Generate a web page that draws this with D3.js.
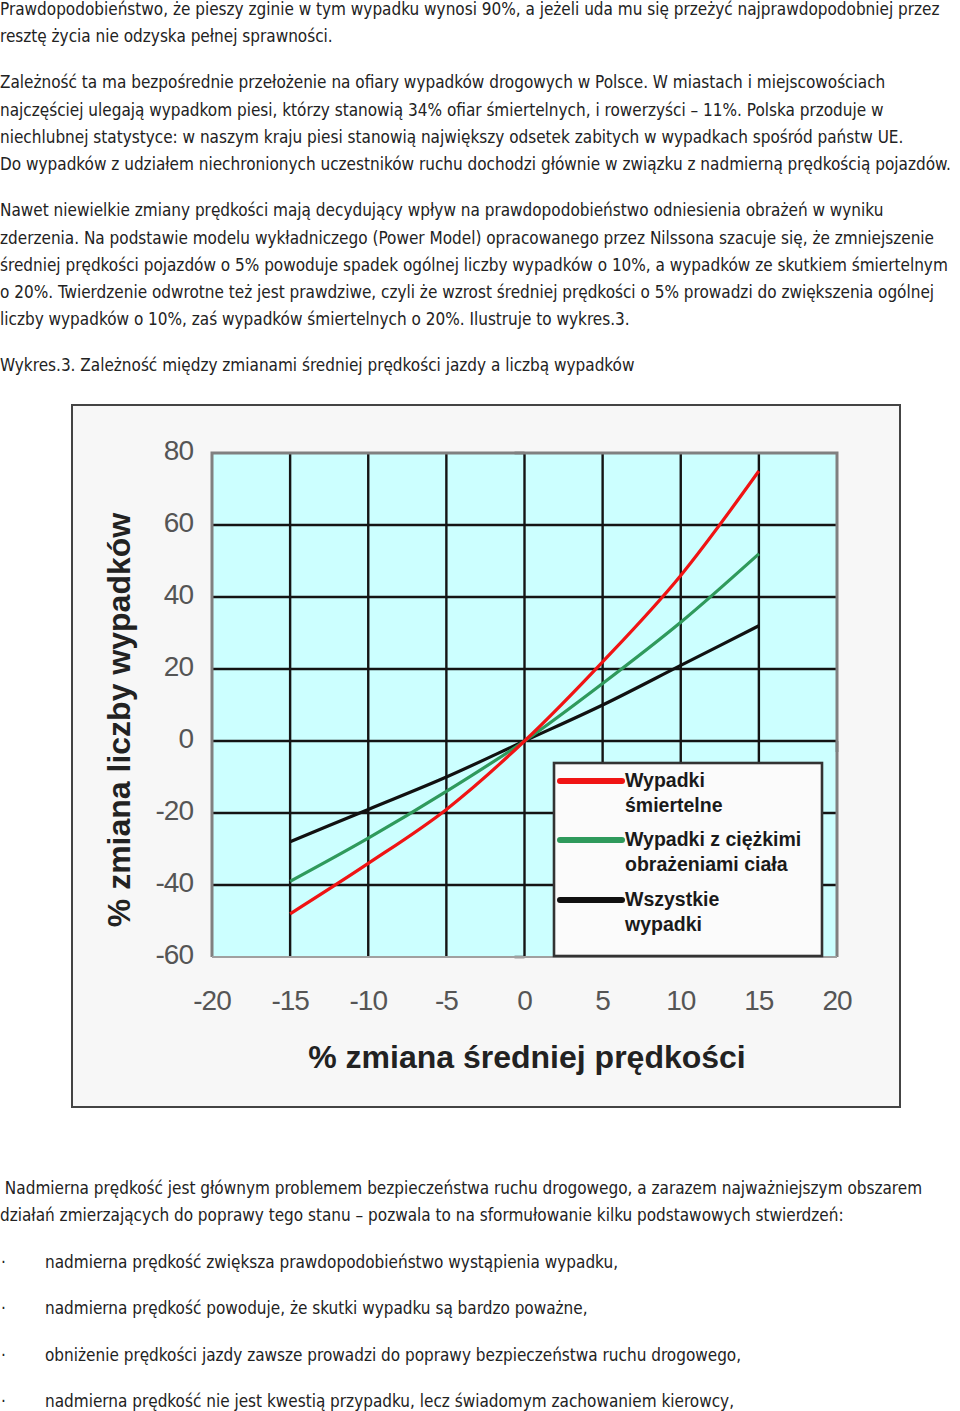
<!DOCTYPE html>
<html>
<head>
<meta charset="utf-8">
<script src="https://cdn.jsdelivr.net/npm/d3@7"></script>
<style>
  body { margin: 0; background: #fff; }
  .txt { font-family: "DejaVu Sans Condensed", "DejaVu Sans", sans-serif; font-stretch: condensed; font-size: 17px; fill: #222; }
</style>
</head>
<body>
<div id="page"></div>
<script>
// speed change (%) and change in number of accidents (%)
var speedChange = [-15, -10, -5, 0, 5, 10, 15];
var fatal = [-48, -34, -19, 0, 22, 46, 75];
var serious = [-39, -27, -14, 0, 16, 33, 52];
var allAcc = [-28, -19, -10, 0, 10, 21, 32];

var xTicks = [-20, -15, -10, -5, 0, 5, 10, 15, 20];
var yTicks = [-60, -40, -20, 0, 20, 40, 60, 80];

var seriesNames = [["Wypadki", "śmiertelne"], ["Wypadki z ciężkimi", "obrażeniami ciała"], ["Wszystkie", "wypadki"]];
var seriesColors = ["#f01414", "#2f9a5c", "#111111"];

var paraTop = [
  ["Prawdopodobieństwo, że pieszy zginie w tym wypadku wynosi 90%, a jeżeli uda mu się przeżyć najprawdopodobniej przez",
   "resztę życia nie odzyska pełnej sprawności."],
  ["Zależność ta ma bezpośrednie przełożenie na ofiary wypadków drogowych w Polsce. W miastach i miejscowościach",
   "najczęściej ulegają wypadkom piesi, którzy stanowią 34% ofiar śmiertelnych, i rowerzyści – 11%. Polska przoduje w",
   "niechlubnej statystyce: w naszym kraju piesi stanowią największy odsetek zabitych w wypadkach spośród państw UE.",
   "Do wypadków z udziałem niechronionych uczestników ruchu dochodzi głównie w związku z nadmierną prędkością pojazdów."],
  ["Nawet niewielkie zmiany prędkości mają decydujący wpływ na prawdopodobieństwo odniesienia obrażeń w wyniku",
   "zderzenia. Na podstawie modelu wykładniczego (Power Model) opracowanego przez Nilssona szacuje się, że zmniejszenie",
   "średniej prędkości pojazdów o 5% powoduje spadek ogólnej liczby wypadków o 10%, a wypadków ze skutkiem śmiertelnym",
   "o 20%. Twierdzenie odwrotne też jest prawdziwe, czyli że wzrost średniej prędkości o 5% prowadzi do zwiększenia ogólnej",
   "liczby wypadków o 10%, zaś wypadków śmiertelnych o 20%. Ilustruje to wykres.3."],
  ["Wykres.3. Zależność między zmianami średniej prędkości jazdy a liczbą wypadków"]
];
var textBottom = [
  " Nadmierna prędkość jest głównym problemem bezpieczeństwa ruchu drogowego, a zarazem najważniejszym obszarem",
  "działań zmierzających do poprawy tego stanu – pozwala to na sformułowanie kilku podstawowych stwierdzeń:"
];
var bullets = [
  "nadmierna prędkość zwiększa prawdopodobieństwo wystąpienia wypadku,",
  "nadmierna prędkość powoduje, że skutki wypadku są bardzo poważne,",
  "obniżenie prędkości jazdy zawsze prowadzi do poprawy bezpieczeństwa ruchu drogowego,",
  "nadmierna prędkość nie jest kwestią przypadku, lecz świadomym zachowaniem kierowcy,"
];

var svg = d3.select("#page").append("svg")
        .attr("width", 960)
        .attr("height", 1411);

// paragraphs above the chart
var lines = [];
var yy = 15;
paraTop.forEach(function (p, k) {
    if (k > 0) yy += 46 - 27.3;
    p.forEach(function (t) {
        lines.push({t: t, y: yy});
        yy += 27.3;
    });
});

svg.selectAll("text.top")
        .data(lines)
        .enter().append("text")
        .attr("class", "txt top")
        .attr("x", 0)
        .attr("y", function (d) { return d.y; })
        .text(function (d) { return d.t; });

svg.selectAll("text.bot")
        .data(textBottom)
        .enter().append("text")
        .attr("class", "txt bot")
        .attr("x", 0)
        .attr("y", function (d, i) { return 1194 + i * 27; })
        .attr("xml:space", "preserve")
        .text(function (d) { return d; });

var bul = svg.selectAll("g.bul")
        .data(bullets)
        .enter().append("g")
        .attr("class", "bul")
        .attr("transform", function (d, i) { return "translate(0," + (1268 + i * 46.4) + ")"; });
bul.append("text").attr("class", "txt").attr("x", 1).text("·");
bul.append("text").attr("class", "txt").attr("x", 45).text(function (d) { return d; });

// chart frame
svg.append("rect")
        .attr("x", 72).attr("y", 405)
        .attr("width", 828).attr("height", 702)
        .attr("fill", "#f7f7f7")
        .attr("stroke", "#444")
        .attr("stroke-width", 2);

var x = d3.scaleLinear().domain([-20, 20]).range([212, 837]);
var y = d3.scaleLinear().domain([-60, 80]).range([957, 453]);

var chart = svg.append("g").attr("font-family", "'Liberation Sans', Arial, sans-serif");

chart.append("rect")
        .attr("x", x(-20)).attr("y", y(80))
        .attr("width", x(20) - x(-20)).attr("height", y(-60) - y(80))
        .attr("fill", "#ccffff");

// grid
chart.selectAll("line.vg")
        .data(xTicks.filter(function (d) { return d > -20 && d < 20; }))
        .enter().append("line")
        .attr("x1", function (d) { return x(d); }).attr("x2", function (d) { return x(d); })
        .attr("y1", y(80)).attr("y2", y(-60))
        .attr("stroke", "#141414")
        .attr("stroke-width", 2.4);

chart.selectAll("line.hg")
        .data(yTicks.filter(function (d) { return d > -60 && d < 80; }))
        .enter().append("line")
        .attr("x1", x(-20)).attr("x2", x(20))
        .attr("y1", function (d) { return y(d); }).attr("y2", function (d) { return y(d); })
        .attr("stroke", "#141414")
        .attr("stroke-width", 2.4);

// small ends of the axes through the origin
chart.append("path")
        .attr("d", "M" + (x(0) - 10) + "," + y(80) + "H" + x(0))
        .attr("stroke", "#141414").attr("stroke-width", 2.4).attr("fill", "none");
chart.append("path")
        .attr("d", "M" + (x(0) - 10) + "," + y(-60) + "H" + x(0))
        .attr("stroke", "#141414").attr("stroke-width", 2.4).attr("fill", "none");
chart.append("path")
        .attr("d", "M" + x(20) + "," + y(0) + "V" + (y(0) + 11))
        .attr("stroke", "#141414").attr("stroke-width", 2.4).attr("fill", "none");

// plot border
chart.append("path")
        .attr("d", "M" + x(-20) + "," + y(-60) + "V" + y(80) + "H" + x(20) + "V" + y(-60))
        .attr("fill", "none")
        .attr("stroke", "#808080")
        .attr("stroke-width", 3);
chart.append("line")
        .attr("x1", x(-20)).attr("x2", x(20))
        .attr("y1", y(-60)).attr("y2", y(-60))
        .attr("stroke", "#a0a0a0").attr("stroke-width", 2);

// series
var line = d3.line()
        .x(function (d) { return x(d[0]); })
        .y(function (d) { return y(d[1]); })
        .curve(d3.curveMonotoneX);

[allAcc, serious, fatal].forEach(function (vals, k) {
    var idx = 2 - k;
    chart.append("path")
            .datum(d3.zip(speedChange, vals))
            .attr("d", line)
            .attr("fill", "none")
            .attr("stroke", seriesColors[idx])
            .attr("stroke-width", 3.2);
});

// tick labels
chart.selectAll("text.yt")
        .data(yTicks)
        .enter().append("text")
        .attr("x", 193)
        .attr("y", function (d) { return y(d) + 7; })
        .attr("text-anchor", "end")
        .attr("font-size", 28)
        .attr("letter-spacing", -1)
        .attr("fill", "#555")
        .text(function (d) { return d; });

chart.selectAll("text.xt")
        .data(xTicks)
        .enter().append("text")
        .attr("x", function (d) { return x(d); })
        .attr("y", 1010)
        .attr("text-anchor", "middle")
        .attr("font-size", 28)
        .attr("letter-spacing", -1)
        .attr("fill", "#555")
        .text(function (d) { return d; });

// axis titles
chart.append("text")
        .attr("transform", "translate(130,720) rotate(-90)")
        .attr("text-anchor", "middle")
        .attr("font-size", 32)
        .attr("font-weight", "bold")
        .attr("fill", "#222")
        .text("% zmiana liczby wypadków");

chart.append("text")
        .attr("x", 527)
        .attr("y", 1068)
        .attr("text-anchor", "middle")
        .attr("font-size", 32)
        .attr("font-weight", "bold")
        .attr("fill", "#222")
        .text("% zmiana średniej prędkości");

// legend
var legend = chart.append("g");
legend.append("rect")
        .attr("x", 554).attr("y", 763)
        .attr("width", 268).attr("height", 193)
        .attr("fill", "#fbfbfb")
        .attr("stroke", "#333")
        .attr("stroke-width", 2.6);

var item = legend.selectAll("g.item")
        .data(seriesNames)
        .enter().append("g")
        .attr("transform", function (d, i) { return "translate(0," + [781, 840, 900][i] + ")"; });

item.append("line")
        .attr("x1", 560).attr("x2", 622)
        .attr("stroke", function (d, i) { return seriesColors[i]; })
        .attr("stroke-width", 6)
        .attr("stroke-linecap", "round");

item.selectAll("text")
        .data(function (d) { return d; })
        .enter().append("text")
        .attr("x", 625)
        .attr("y", function (d, j) { return 6 + j * 25; })
        .attr("font-size", 19.5)
        .attr("font-weight", "bold")
        .attr("fill", "#1a1a1a")
        .text(function (d) { return d; });
</script>
</body>
</html>
